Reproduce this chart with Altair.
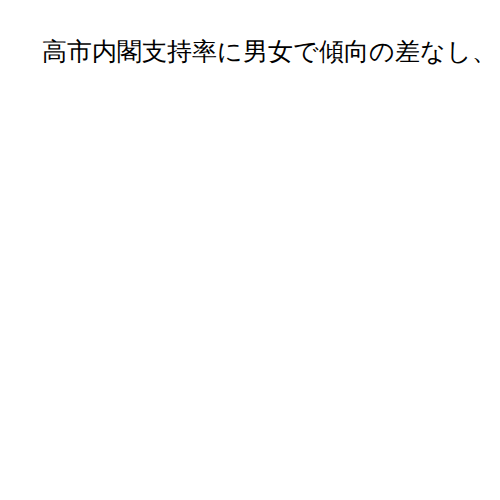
import altair as alt
import pandas as pd

title_text = "高市内閣支持率に男女で傾向の差なし、"

categories = []
values = []

df = pd.DataFrame({"category": categories, "value": values})

chart = alt.Chart(df).mark_bar().encode(
    x=alt.X("category:N", axis=None),
    y=alt.Y("value:Q", axis=None),
).properties(
    width=482,
    height=420,
    autosize=alt.AutoSizeParams(type="none"),
    padding={"top": 58, "left": 5, "right": 5, "bottom": 5},
    title=alt.TitleParams(
        text=title_text,
        anchor="start",
        fontSize=25,
        font="serif",
        fontWeight="normal",
        color="#000000",
        dx=30,
    ),
).configure_view(stroke=None)

chart.save("out.html", embed_options={"renderer": "svg", "actions": False})
